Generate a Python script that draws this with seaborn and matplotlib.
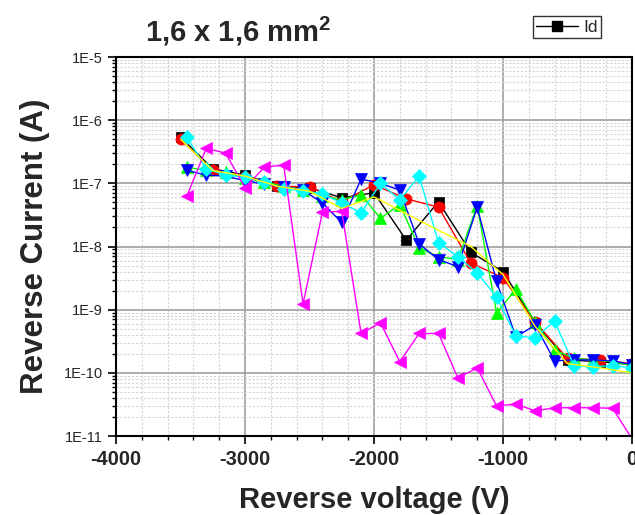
import numpy as np
import pandas as pd
import matplotlib
matplotlib.use("Agg")
import matplotlib.pyplot as plt
import seaborn as sns
from matplotlib.ticker import FixedLocator, NullFormatter, LogLocator
from matplotlib.lines import Line2D

# ---------------- data ----------------
v250 = [-3500, -3250, -3000, -2750, -2500, -2250, -2000, -1750, -1500,
        -1250, -1000, -750, -500, -250, 0]
v150 = [-3450, -3300, -3150, -3000, -2850, -2700, -2550, -2400, -2250,
        -2100, -1950, -1800, -1650, -1500, -1350, -1200, -1050, -900,
        -750, -600, -450, -300, -150, 0]

i_black = [5.4e-7, 1.7e-7, 1.35e-7, 9.1e-8, 8.5e-8, 5.9e-8, 7.1e-8, 1.26e-8,
           5.1e-8, 8.1e-9, 4.0e-9, 6.2e-10, 1.6e-10, 1.5e-10, 1.35e-10]
i_red = [5.0e-7, 1.6e-7, 1.25e-7, 9.0e-8, 8.8e-8, 5.1e-8, 9.5e-8, 5.7e-8,
         4.2e-8, 5.5e-9, 3.2e-9, 6.3e-10, 1.7e-10, 1.6e-10, 1.4e-10]
i_yellow = [5.0e-7, 1.6e-7, 1.3e-7, 9.0e-8, 7.5e-8, 4.0e-8, 6.1e-8, 3.3e-8,
            1.8e-8, 1.0e-8, 3.6e-9, 5.4e-10, 1.4e-10, 1.2e-10, 1.0e-10]
i_green = [1.8e-7, 1.6e-7, 1.5e-7, 1.2e-7, 1.05e-7, 9.0e-8, 7.8e-8, 6.3e-8,
           5.5e-8, 6.6e-8, 2.8e-8, 4.6e-8, 9.5e-9, 6.9e-9, 6.2e-9, 4.4e-8,
           8.9e-10, 2.1e-9, 6.3e-10, 2.3e-10, 1.7e-10, 1.6e-10, 1.5e-10, 1.3e-10]
i_blue = [1.6e-7, 1.35e-7, 1.3e-7, 1.1e-7, 9.8e-8, 8.8e-8, 7.8e-8, 4.9e-8,
          2.4e-8, 1.17e-7, 1.0e-7, 7.8e-8, 1.1e-8, 6.2e-9, 4.8e-9, 4.2e-8,
          2.8e-9, 3.7e-10, 5.7e-10, 1.55e-10, 1.6e-10, 1.6e-10, 1.55e-10, 1.35e-10]
i_cyan = [5.4e-7, 1.7e-7, 1.35e-7, 1.25e-7, 1.05e-7, 8.2e-8, 7.6e-8, 6.8e-8,
          4.9e-8, 3.4e-8, 1.0e-7, 5.5e-8, 1.3e-7, 1.15e-8, 6.9e-9, 3.8e-9,
          1.6e-9, 3.8e-10, 3.6e-10, 6.6e-10, 1.3e-10, 1.25e-10, 1.3e-10, 1.2e-10]
i_magenta = [6.3e-8, 3.6e-7, 3.0e-7, 8.5e-8, 1.8e-7, 1.95e-7, 1.23e-9, 3.5e-8,
             3.6e-8, 4.2e-10, 6.2e-10, 1.5e-10, 4.2e-10, 4.2e-10, 8.3e-11,
             1.2e-10, 3.0e-11, 3.2e-11, 2.5e-11, 2.8e-11, 2.8e-11, 2.8e-11,
             2.75e-11, 9.0e-12]

x_ticks = [-4000, -3000, -2000, -1000, 0]
x_labels = ["-4000", "-3000", "-2000", "-1000", "0"]
y_ticks = [1e-11, 1e-10, 1e-9, 1e-8, 1e-7, 1e-6, 1e-5]
y_labels = ["1E-11", "1E-10", "1E-9", "1E-8", "1E-7", "1E-6", "1E-5"]

title = "1,6 x 1,6 mm$^{\\mathbf{2}}$"
legend_label = "Id"

# ---------------- plot ----------------
sns.set_style("white")
plt.rcParams['font.family'] = ['Liberation Sans', 'DejaVu Sans']
plt.rcParams['mathtext.fontset'] = 'custom'
plt.rcParams['mathtext.bf'] = 'Liberation Sans:bold'
plt.rcParams['mathtext.rm'] = 'Liberation Sans'

fig = plt.figure(figsize=(6.35, 5.15), dpi=100)
ax = fig.add_axes([116/635, 1-436/515, (632-116)/635, (436-57)/515])

series = [
    ("black", v250, i_black, "s", "#000000"),
    ("red", v250, i_red, "o", "#ff0000"),
    ("green", v150, i_green, "^", "#00ff00"),
    ("blue", v150, i_blue, "v", "#0000ff"),
    ("cyan", v150, i_cyan, "D", "#00ffff"),
    ("magenta", v150, i_magenta, "<", "#ff00ff"),
    ("yellow", v250, i_yellow, None, "#ffff00"),
]
msizes = {"s": 7.5, "o": 8, "^": 8.5, "v": 8.5, "D": 7, "<": 8.5}

for name, xs, ys, mk, col in series:
    df = pd.DataFrame({"V": xs, "I": ys})
    kw = {}
    if mk is not None:
        kw = dict(marker=mk, markersize=msizes[mk], markeredgecolor=col,
                  markerfacecolor=col, markeredgewidth=0.5)
    sns.lineplot(data=df, x="V", y="I", ax=ax, color=col, linewidth=1.0,
                 sort=False, estimator=None, legend=False, **kw)

ax.set_yscale("log")
ax.set_xlim(-4000, 0)
ax.set_ylim(1e-11, 1e-5)

ax.xaxis.set_major_locator(FixedLocator(x_ticks))
ax.set_xticklabels(x_labels, fontsize=14.5, fontweight="bold")
ax.xaxis.set_minor_locator(FixedLocator(np.arange(-4000, 1, 200)))
ax.yaxis.set_major_locator(FixedLocator(y_ticks))
ax.set_yticklabels(y_labels, fontsize=10.5)
ax.yaxis.set_minor_locator(LogLocator(base=10, subs=np.arange(2, 10), numticks=20))
ax.yaxis.set_minor_formatter(NullFormatter())

ax.grid(True, which="major", color="#a0a0a0", linewidth=1.2, linestyle="-")
ax.grid(True, which="minor", color="#d4d4d4", linewidth=0.8, linestyle=(0, (2, 1.5)))
ax.set_axisbelow(True)

ax.tick_params(axis="both", which="major", direction="out", length=6, width=1.2,
               color="black", bottom=True, left=True)
ax.tick_params(axis="both", which="minor", direction="out", length=3, width=1.0,
               color="black", bottom=True, left=True)
ax.tick_params(axis="x", which="major", pad=4)
for s in ax.spines.values():
    s.set_color("black")
    s.set_linewidth(1.5)

ax.set_xlabel("Reverse voltage (V)", fontsize=21, fontweight="bold", labelpad=12)
ax.set_ylabel("Reverse Current (A)", fontsize=22.5, fontweight="bold", labelpad=10)

fig.text(238/635, 1-31/515, title, fontsize=21, fontweight="bold",
         ha="center", va="center")

handle = Line2D([], [], color="black", marker="s", markersize=6.5, linewidth=1.0)
leg = fig.legend([handle], [legend_label], loc="upper right",
                 bbox_to_anchor=(601/635, 1-16/515), frameon=True, fancybox=False,
                 edgecolor="black", fontsize=12.5, handlelength=2.4,
                 borderpad=0.2, handletextpad=0.3, borderaxespad=0)
leg.get_frame().set_linewidth(1.0)

fig.savefig("out.png", dpi=100)
